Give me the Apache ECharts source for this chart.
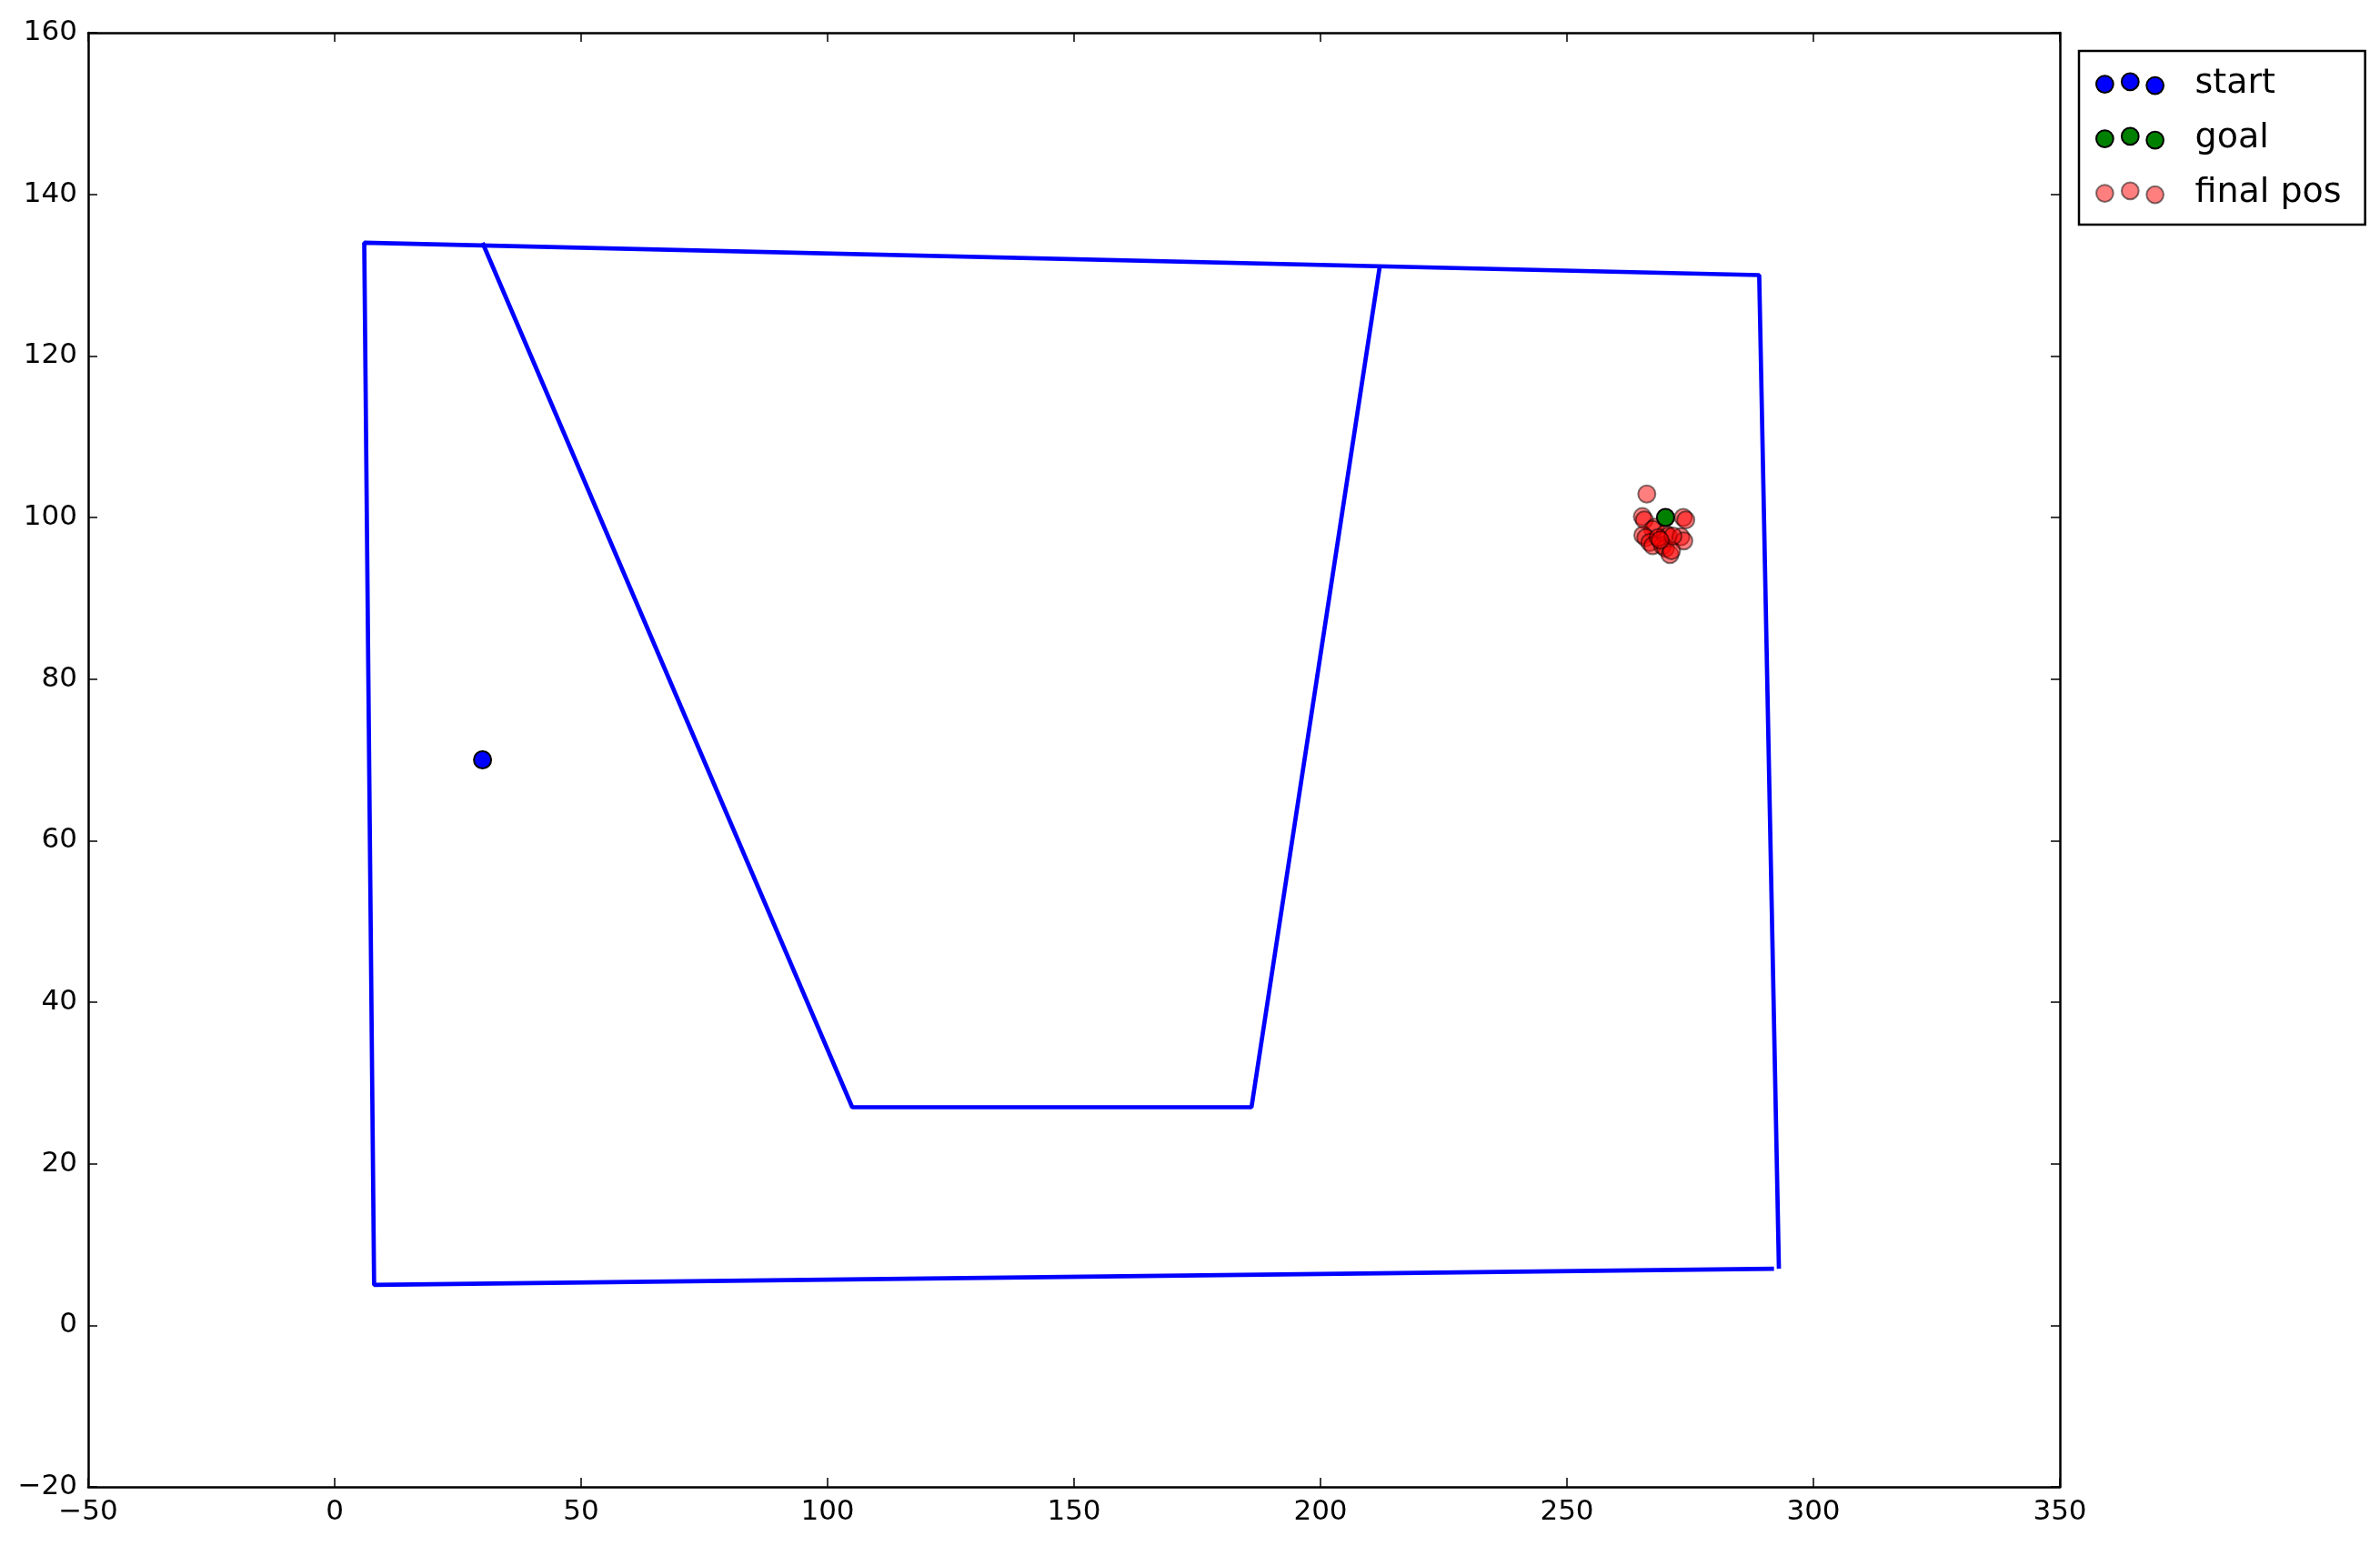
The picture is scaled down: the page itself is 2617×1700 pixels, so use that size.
<!DOCTYPE html>
<html>
<head>
<meta charset="utf-8">
<script src="https://cdn.jsdelivr.net/npm/echarts@6/dist/echarts.min.js"></script>
<style>
html,body{margin:0;padding:0;background:#fff;}
#chart{width:2617px;height:1700px;}
</style>
</head>
<body>
<div id="chart"></div>
<script>
// ---- data ----
const outerWall = [[292, 7], [8, 5], [6, 134], [289, 130], [293, 7]];
const innerWall = [[30, 134], [105, 27], [186, 27], [212, 131]];
const startPos = [[30, 70]];
const goalPos = [[270, 100]];
const finalPos = [
  [266.2, 102.9],
  [265.3, 100.1], [265.7, 99.7],
  [273.6, 100.0], [274.1, 99.7],
  [267.9, 98.8], [267.4, 98.5],
  [265.4, 97.8], [266.0, 97.5],
  [270.0, 98.0], [270.6, 97.7],
  [273.1, 97.6], [273.7, 97.1],
  [266.8, 96.9], [267.4, 96.5],
  [269.4, 96.5], [270.0, 96.2],
  [270.9, 95.4], [271.2, 95.9],
  [268.5, 97.5], [271.5, 97.7], [268.9, 97.2]
];
const xTicks = {min: -50, max: 350, interval: 50};
const yTicks = {min: -20, max: 160, interval: 20};
// ---- chart ----
const FONT = 'DejaVu Sans';
const minusFmt = v => String(v).replace('-', '\u2212');
const icon3 = 'path://M0,12.2 A9.5,9.5 0 1 0 19,12.2 A9.5,9.5 0 1 0 0,12.2 Z ' +
  'M28.3,9.5 A9.5,9.5 0 1 0 47.3,9.5 A9.5,9.5 0 1 0 28.3,9.5 Z ' +
  'M56,13.8 A9.5,9.5 0 1 0 75,13.8 A9.5,9.5 0 1 0 56,13.8 Z';
const axisCommon = {
  type: 'value',
  axisLine: {show: true, onZero: false, lineStyle: {color: '#000', width: 2.5}},
  axisTick: {show: true, inside: true, length: 10, lineStyle: {color: '#000', width: 1.5}},
  splitLine: {show: false}
};
const chart = echarts.init(document.getElementById('chart'), null, {renderer: 'canvas'});
chart.setOption({
  animation: false,
  backgroundColor: '#fff',
  grid: {left: 97, right: 352, top: 36, bottom: 65, containLabel: false},
  xAxis: [
    Object.assign({}, axisCommon, xTicks, {position: 'bottom',
      axisLabel: {show: true, margin: 12, color: '#000', fontFamily: FONT, fontSize: 31, formatter: minusFmt}}),
    Object.assign({}, axisCommon, xTicks, {position: 'top', axisLabel: {show: false}})
  ],
  yAxis: [
    Object.assign({}, axisCommon, yTicks, {position: 'left',
      axisLabel: {show: true, margin: 12, color: '#000', fontFamily: FONT, fontSize: 31, formatter: minusFmt}}),
    Object.assign({}, axisCommon, yTicks, {position: 'right', axisLabel: {show: false}})
  ],
  legend: {
    orient: 'vertical',
    left: 2286, top: 56,
    padding: [16, 26, 15, 18],
    itemWidth: 75, itemHeight: 23, itemGap: 20,
    borderColor: '#000', borderWidth: 2.5, borderRadius: 0,
    backgroundColor: '#fff',
    textStyle: {color: '#000', fontFamily: FONT, fontSize: 38, lineHeight: 40, padding: [0, 0, 0, 29]},
    data: [
      {name: 'start', icon: icon3, itemStyle: {color: '#0000ff', borderColor: '#000', borderWidth: 2}},
      {name: 'goal', icon: icon3, itemStyle: {color: '#008000', borderColor: '#000', borderWidth: 2}},
      {name: 'final pos', icon: icon3, itemStyle: {color: 'rgba(255,0,0,0.5)', borderColor: 'rgba(0,0,0,0.5)', borderWidth: 2}}
    ]
  },
  series: [
    {name: 'outer', type: 'line', data: outerWall, showSymbol: false, symbol: 'none',
      lineStyle: {color: '#0000ff', width: 4.7}, z: 2, silent: true},
    {name: 'inner', type: 'line', data: innerWall, showSymbol: false, symbol: 'none',
      lineStyle: {color: '#0000ff', width: 4.7}, z: 2, silent: true},
    {name: 'start', type: 'scatter', data: startPos, symbolSize: 19,
      itemStyle: {color: '#0000ff', borderColor: '#000', borderWidth: 2, opacity: 1}, z: 3},
    {name: 'final pos', type: 'scatter', data: finalPos, symbolSize: 19,
      itemStyle: {color: 'rgba(255,0,0,0.5)', borderColor: 'rgba(0,0,0,0.5)', borderWidth: 2, opacity: 1}, z: 4},
    {name: 'goal', type: 'scatter', data: goalPos, symbolSize: 19,
      itemStyle: {color: '#008000', borderColor: '#000', borderWidth: 2, opacity: 1}, z: 5}
  ]
});
</script>
</body>
</html>
